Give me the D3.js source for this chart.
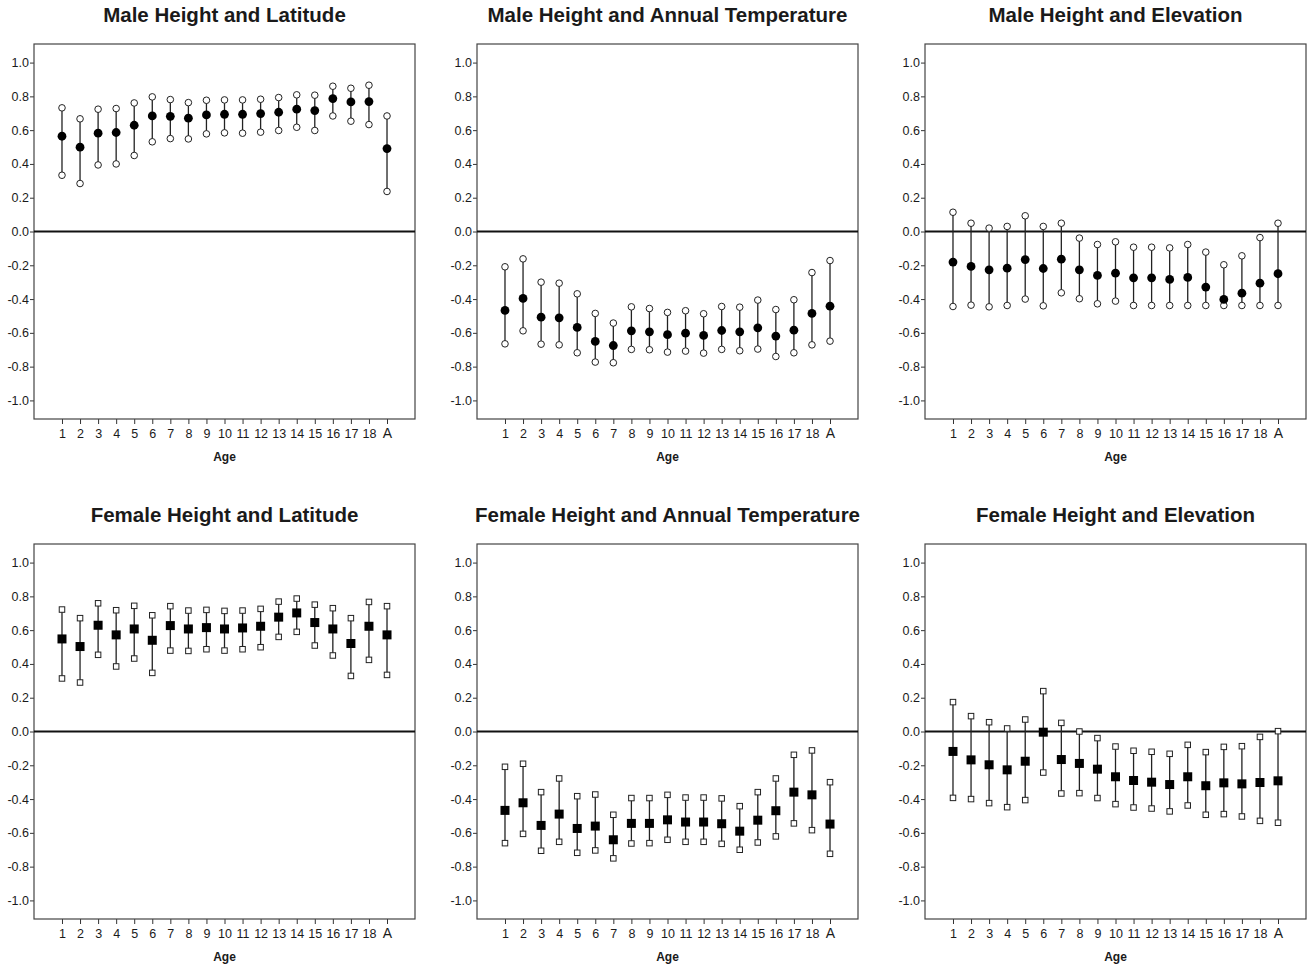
<!DOCTYPE html>
<html>
<head>
<meta charset="utf-8">
<script src="https://cdn.jsdelivr.net/npm/d3@7"></script>
<style>
  body { margin: 0; background: #fff; }
  svg { display: block; font-family: "Liberation Sans", Arial, sans-serif; }
</style>
</head>
<body>
<svg id="chart" width="1307" height="966"></svg>
<script>
// ---------------------------------------------------------------- data
let ages = ["1","2","3","4","5","6","7","8","9","10","11","12","13","14","15","16","17","18","A"];
let yTicks = [1.0, 0.8, 0.6, 0.4, 0.2, 0.0, -0.2, -0.4, -0.6, -0.8, -1.0];

let maleLatMean = [0.564,0.499,0.582,0.586,0.629,0.684,0.682,0.671,0.690,0.694,0.694,0.698,0.706,0.724,0.716,0.787,0.767,0.769,0.491];
let maleLatLow  = [0.333,0.284,0.394,0.400,0.450,0.531,0.550,0.548,0.578,0.584,0.582,0.588,0.598,0.617,0.598,0.684,0.653,0.633,0.237];
let maleLatHigh = [0.732,0.667,0.724,0.728,0.761,0.797,0.781,0.763,0.777,0.779,0.779,0.783,0.793,0.809,0.807,0.860,0.848,0.866,0.684];

let maleTempMean = [-0.467,-0.396,-0.507,-0.511,-0.568,-0.651,-0.675,-0.588,-0.594,-0.611,-0.602,-0.615,-0.586,-0.594,-0.570,-0.619,-0.584,-0.485,-0.442];
let maleTempLow  = [-0.665,-0.588,-0.667,-0.671,-0.718,-0.773,-0.777,-0.698,-0.700,-0.714,-0.708,-0.720,-0.698,-0.706,-0.696,-0.740,-0.718,-0.671,-0.649];
let maleTempHigh = [-0.209,-0.162,-0.300,-0.306,-0.369,-0.485,-0.542,-0.446,-0.456,-0.479,-0.469,-0.487,-0.444,-0.448,-0.406,-0.462,-0.404,-0.243,-0.172];

let maleElevMean = [-0.181,-0.207,-0.227,-0.217,-0.166,-0.219,-0.164,-0.227,-0.260,-0.247,-0.274,-0.274,-0.284,-0.272,-0.329,-0.402,-0.365,-0.306,-0.250];
let maleElevLow  = [-0.444,-0.436,-0.446,-0.438,-0.400,-0.440,-0.363,-0.398,-0.428,-0.412,-0.438,-0.438,-0.438,-0.438,-0.438,-0.438,-0.438,-0.438,-0.438];
let maleElevHigh = [0.114,0.049,0.020,0.030,0.093,0.030,0.049,-0.039,-0.077,-0.061,-0.093,-0.093,-0.097,-0.077,-0.122,-0.197,-0.144,-0.036,0.049];

let femLatMean = [0.548,0.503,0.629,0.572,0.607,0.540,0.627,0.607,0.615,0.607,0.613,0.623,0.677,0.702,0.645,0.607,0.521,0.623,0.572];
let femLatLow  = [0.314,0.290,0.454,0.385,0.432,0.347,0.479,0.477,0.487,0.479,0.487,0.499,0.560,0.590,0.509,0.450,0.329,0.424,0.335];
let femLatHigh = [0.722,0.671,0.759,0.718,0.744,0.688,0.742,0.716,0.720,0.714,0.716,0.726,0.769,0.787,0.751,0.730,0.671,0.767,0.742];

let femTempMean = [-0.467,-0.422,-0.556,-0.489,-0.574,-0.560,-0.641,-0.544,-0.544,-0.523,-0.536,-0.536,-0.546,-0.590,-0.525,-0.469,-0.359,-0.375,-0.548];
let femTempLow  = [-0.661,-0.606,-0.706,-0.653,-0.718,-0.704,-0.751,-0.663,-0.661,-0.641,-0.653,-0.653,-0.665,-0.700,-0.657,-0.621,-0.544,-0.584,-0.724];
let femTempHigh = [-0.209,-0.191,-0.359,-0.278,-0.383,-0.373,-0.493,-0.394,-0.394,-0.375,-0.391,-0.391,-0.396,-0.442,-0.359,-0.278,-0.138,-0.112,-0.300];

let femElevMean = [-0.118,-0.168,-0.197,-0.227,-0.176,-0.004,-0.166,-0.189,-0.223,-0.268,-0.290,-0.300,-0.314,-0.268,-0.321,-0.304,-0.310,-0.302,-0.292];
let femElevLow  = [-0.393,-0.400,-0.424,-0.448,-0.406,-0.243,-0.367,-0.365,-0.394,-0.430,-0.450,-0.456,-0.473,-0.438,-0.493,-0.489,-0.503,-0.529,-0.540];
let femElevHigh = [0.174,0.091,0.055,0.018,0.071,0.239,0.051,0.000,-0.039,-0.089,-0.114,-0.120,-0.132,-0.079,-0.122,-0.091,-0.087,-0.032,0.002];

let panels = [
    {title:"Male Height and Latitude",              mean:maleLatMean,  low:maleLatLow,  high:maleLatHigh,  shape:"circle", col:0, row:0},
    {title:"Male Height and Annual Temperature",    mean:maleTempMean, low:maleTempLow, high:maleTempHigh, shape:"circle", col:1, row:0},
    {title:"Male Height and Elevation",             mean:maleElevMean, low:maleElevLow, high:maleElevHigh, shape:"circle", col:2, row:0},
    {title:"Female Height and Latitude",            mean:femLatMean,   low:femLatLow,   high:femLatHigh,   shape:"square", col:0, row:1},
    {title:"Female Height and Annual Temperature",  mean:femTempMean,  low:femTempLow,  high:femTempHigh,  shape:"square", col:1, row:1},
    {title:"Female Height and Elevation",           mean:femElevMean,  low:femElevLow,  high:femElevHigh,  shape:"square", col:2, row:1}
];

// ---------------------------------------------------------------- layout
let svg = d3.select("#chart");
let boxW = 381, boxH = 375;
let colX = [34, 477, 925];
let rowY = [44, 544];

let xScale = d3.scalePoint().domain(ages).range([0, boxW]).padding(1.55);
let yScale = d3.scaleLinear().domain([-1.11, 1.11]).range([boxH, 0]);

for (let p of panels) {
    let g = svg.append("g").attr("transform", "translate(" + colX[p.col] + "," + rowY[p.row] + ")");

    // title
    g.append("text").attr("x", boxW / 2).attr("y", -22)
        .attr("text-anchor", "middle").attr("font-size", "20.5px").attr("font-weight", "bold")
        .attr("fill", "#1a1a1a").text(p.title);

    // y axis (ticks on the left)
    let yAxis = d3.axisLeft(yScale).tickValues(yTicks).tickSize(4).tickPadding(1)
        .tickFormat(d3.format(".1f"));
    let ya = g.append("g").call(yAxis);
    ya.select(".domain").remove();
    ya.selectAll("line").attr("stroke", "#333");
    ya.selectAll("text").attr("font-size", "12.5px").attr("fill", "#1a1a1a")
        .text(d => d3.format(".1f")(d).replace("−", "-"));

    // x axis (ticks below box)
    let xAxis = d3.axisBottom(xScale).tickSize(5).tickPadding(5);
    let xa = g.append("g").attr("transform", "translate(0," + boxH + ")").call(xAxis);
    xa.select(".domain").remove();
    xa.selectAll("line").attr("stroke", "#333");
    xa.selectAll("text").attr("font-size", "12.5px").attr("fill", "#1a1a1a");
    xa.selectAll(".tick").filter(d => d === "A").select("text").attr("font-size", "14px").attr("dy", "0.66em");

    g.append("text").attr("x", boxW / 2).attr("y", boxH + 42)
        .attr("text-anchor", "middle").attr("font-size", "12px").attr("font-weight", "bold")
        .attr("fill", "#1a1a1a").text("Age");

    // box
    g.append("rect").attr("x", 0).attr("y", 0).attr("width", boxW).attr("height", boxH)
        .attr("fill", "none").attr("stroke", "#444").attr("stroke-width", 1.2);

    // zero line
    g.append("line").attr("x1", 0).attr("x2", boxW).attr("y1", yScale(0)).attr("y2", yScale(0))
        .attr("stroke", "#111").attr("stroke-width", 2);

    let rows = ages.map((a, i) => ({age: a, mean: p.mean[i], low: p.low[i], high: p.high[i]}));

    // interval lines
    g.selectAll(".ci").data(rows).enter().append("line")
        .attr("x1", d => xScale(d.age)).attr("x2", d => xScale(d.age))
        .attr("y1", d => yScale(d.low)).attr("y2", d => yScale(d.high))
        .attr("stroke", "#222").attr("stroke-width", 1.3);

    let ends = [];
    rows.forEach(d => { ends.push({age: d.age, v: d.low}); ends.push({age: d.age, v: d.high}); });

    if (p.shape === "circle") {
        g.selectAll(".end").data(ends).enter().append("circle")
            .attr("cx", d => xScale(d.age)).attr("cy", d => yScale(d.v)).attr("r", 3.3)
            .attr("fill", "#fff").attr("stroke", "#222").attr("stroke-width", 1);
        g.selectAll(".mid").data(rows).enter().append("circle")
            .attr("cx", d => xScale(d.age)).attr("cy", d => yScale(d.mean)).attr("r", 4.4)
            .attr("fill", "#000");
    } else {
        let s = 5.5, m = 9;
        g.selectAll(".end").data(ends).enter().append("rect")
            .attr("x", d => xScale(d.age) - s / 2).attr("y", d => yScale(d.v) - s / 2)
            .attr("width", s).attr("height", s)
            .attr("fill", "#fff").attr("stroke", "#222").attr("stroke-width", 1);
        g.selectAll(".mid").data(rows).enter().append("rect")
            .attr("x", d => xScale(d.age) - m / 2).attr("y", d => yScale(d.mean) - m / 2)
            .attr("width", m).attr("height", m).attr("fill", "#000");
    }
}
</script>
</body>
</html>
